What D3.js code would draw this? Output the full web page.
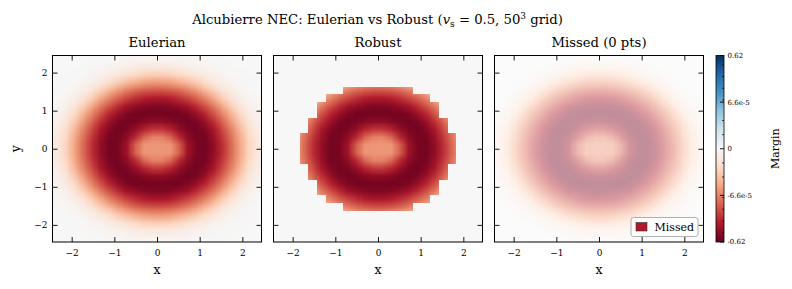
<!DOCTYPE html>
<html>
<head>
<meta charset="utf-8">
<script src="https://cdn.jsdelivr.net/npm/d3@7"></script>
<style>
body { margin: 0; background: #fff; }
text { font-family: "DejaVu Serif", serif; fill: #000; }
</style>
</head>
<body>
<div id="chart"></div>
<script>
// ---------------------------- DATA --------------------------------
// cell centres of the 50 point grid on [-5, 5] (positive half, central cells only)
var cellCentres = [0.102, 0.306, 0.510, 0.714, 0.918, 1.122, 1.327, 1.531, 1.735, 1.939, 2.143, 2.347];

// Eulerian NEC margin, one quadrant (rows: y outward, cols: x outward)
var eulerianQuadrant = [
    [-5.8e-5, -5.9e-5, -4.1e-4, -0.038, -0.25, -0.31, -0.072, -0.0051, -2.4e-4, -5.2e-5, -2.9e-5, -1.3e-5],
    [-6.6e-5, -2.9e-4, -0.0069, -0.091, -0.30, -0.27, -0.050, -0.0032, -1.6e-4, -4.9e-5, -2.7e-5, -1.2e-5],
    [-0.0034, -0.0099, -0.062, -0.23, -0.34, -0.15, -0.023, -0.0012, -6.7e-5, -4.3e-5, -2.2e-5, -9.5e-6],
    [-0.086, -0.14, -0.25, -0.34, -0.23, -0.051, -0.0050, -3.3e-4, -5.7e-5, -3.5e-5, -1.6e-5, -6.6e-6],
    [-0.31, -0.33, -0.32, -0.19, -0.055, -0.0089, -7.7e-4, -6.5e-5, -4.5e-5, -2.6e-5, -1.2e-5, -4.5e-6],
    [-0.19, -0.14, -0.077, -0.033, -0.0059, -8.2e-4, -9.2e-5, -5.0e-5, -3.2e-5, -1.5e-5, -6.9e-6, -2.6e-6],
    [-0.020, -0.013, -0.0057, -0.0017, -3.7e-4, -6.6e-5, -5.0e-5, -3.3e-5, -1.8e-5, -9.2e-6, -3.7e-6, -1.1e-6],
    [-7.1e-4, -4.8e-4, -2.4e-4, -7.9e-5, -5.7e-5, -4.4e-5, -3.1e-5, -1.8e-5, -1.0e-5, -4.2e-6, -1.3e-6, -2.6e-7],
    [-5.8e-5, -5.6e-5, -5.0e-5, -4.3e-5, -3.4e-5, -2.4e-5, -1.5e-5, -8.7e-6, -4.2e-6, -1.6e-6, -5e-7, 0],
    [-3.3e-5, -3.1e-5, -2.7e-5, -2.1e-5, -1.5e-5, -1.1e-5, -5.8e-6, -3.4e-6, -1.3e-6, -5e-7, 0, 0],
    [-1.3e-5, -1.3e-5, -1.1e-5, -8.4e-6, -5.3e-6, -3.7e-6, -2.1e-6, -1.1e-6, -3e-7, 0, 0, 0],
    [-4.2e-6, -4.0e-6, -3.4e-6, -2.6e-6, -1.3e-6, -1.1e-6, -5e-7, 0, 0, 0, 0, 0]
];

// robust support: last x cell kept in each y row of the quadrant (-1 = none)
var robustLastCol = [8, 8, 7, 7, 6, 6, 5, 3, -1, -1, -1, -1];

var missedPoints = [];
var panelTitles = ["Eulerian", "Robust", "Missed (" + missedPoints.length + " pts)"];
var axisTicks = [-2, -1, 0, 1, 2];

// colorbar
var cbarTicks = [-0.62, -6.6e-5, 0, 6.6e-5, 0.62];
var cbarTickLabels = ["-0.62", "-6.6e-5", "0", "6.6e-5", "0.62"];
var cbarMinorTicks = [-0.1, -0.01, -0.001, -1e-4, -4e-5, -2e-5, 2e-5, 4e-5, 1e-4, 0.001, 0.01, 0.1];
var rdbuColors = ["#67001f", "#b2182b", "#d6604d", "#f4a582", "#fddbc7", "#f7f7f7",
                  "#d1e5f0", "#92c5de", "#4393c3", "#2166ac", "#053061"];

// ---------------------------- LAYOUT ------------------------------
var svgWidth = 792;
var svgHeight = 289;
var panelLefts = [52.5, 273.5, 494.5];
var panelTop = 55.5;
var panelWidth = 209;
var panelHeight = 186.5;
var cbar = { x: 716, y: 55.5, w: 8, h: 186.5 };

var svg = d3.select("#chart")
    .append("svg")
    .attr("width", svgWidth)
    .attr("height", svgHeight);

// symmetric-log style norm: linear inside +-linthresh, log outside
var linthresh = cbarTicks[3];
var vmax = cbarTicks[4];
var logPart = d3.scaleLog().domain([linthresh, vmax]).range([0.25, 0.5]);
function norm(v) {
    var a = Math.abs(v);
    var s = a <= linthresh ? 0.25 * a / linthresh : logPart(Math.min(a, vmax));
    return 0.5 + Math.sign(v) * s;
}
var cmap = d3.scaleLinear()
    .domain(d3.range(rdbuColors.length).map(i => i / (rdbuColors.length - 1)))
    .range(rdbuColors)
    .clamp(true);

var nHalf = cellCentres.length;
var halfStep = (cellCentres[1] - cellCentres[0]) / 2;
var edge = cellCentres[nHalf - 1] + halfStep;

var xScale = d3.scaleLinear().domain([-edge, edge]).range([0, panelWidth]);
var yScale = d3.scaleLinear().domain([-edge, edge]).range([panelHeight, 0]);
var tickFmt = d3.format("");

// quadrant index of a full-grid index (0 = most negative cell)
function quadIndex(k) {
    return k < nHalf ? nHalf - 1 - k : k - nHalf;
}
function centreOf(k) {
    return k < nHalf ? -cellCentres[nHalf - 1 - k] : cellCentres[k - nHalf];
}

// paint the field into a tiny canvas; the browser smooths it when scaled
function fieldImage(quadrant) {
    var size = 2 * nHalf;
    var canvas = document.createElement("canvas");
    canvas.width = size;
    canvas.height = size;
    var ctx = canvas.getContext("2d");
    var img = ctx.createImageData(size, size);
    for (var r = 0; r < size; r++) {
        // image row 0 is the top (largest y)
        var j = quadIndex(size - 1 - r);
        for (var c = 0; c < size; c++) {
            var col = d3.rgb(cmap(norm(quadrant[j][quadIndex(c)])));
            var p = 4 * (r * size + c);
            img.data[p] = col.r;
            img.data[p + 1] = col.g;
            img.data[p + 2] = col.b;
            img.data[p + 3] = 255;
        }
    }
    ctx.putImageData(img, 0, 0);
    return canvas.toDataURL();
}
var eulerianUrl = fieldImage(eulerianQuadrant);

// ---------------------------- PANELS ------------------------------
panelLefts.forEach(function(left, p) {
    var g = svg.append("g")
        .attr("transform", `translate(${left}, ${panelTop})`);

    g.append("rect")
        .attr("width", panelWidth)
        .attr("height", panelHeight)
        .attr("fill", "#fff");

    g.append("image")
        .attr("href", eulerianUrl)
        .attr("x", xScale(-edge))
        .attr("y", yScale(edge))
        .attr("width", xScale(edge) - xScale(-edge))
        .attr("height", yScale(-edge) - yScale(edge))
        .attr("preserveAspectRatio", "none")
        .attr("opacity", p === 2 ? 0.45 : 1);

    // robust panel: cells outside the support show zero margin
    if (p === 1) {
        var maskPath = d3.path();
        for (var r = 0; r < 2 * nHalf; r++) {
            for (var c = 0; c < 2 * nHalf; c++) {
                if (quadIndex(c) > robustLastCol[quadIndex(r)]) {
                    var cx = centreOf(c), cy = centreOf(r);
                    maskPath.rect(xScale(cx - halfStep), yScale(cy + halfStep),
                        xScale(halfStep) - xScale(-halfStep), yScale(-halfStep) - yScale(halfStep));
                }
            }
        }
        g.append("path")
            .attr("d", maskPath.toString())
            .attr("fill", cmap(norm(0)))
            .attr("shape-rendering", "crispEdges");
    }

    // missed points (none here)
    g.selectAll("circle.missed")
        .data(missedPoints)
        .enter()
        .append("circle")
        .attr("cx", d => xScale(d[0]))
        .attr("cy", d => yScale(d[1]))
        .attr("r", 2)
        .attr("fill", "#b2182b");

    // inward ticks on all four sides
    var bottom = g.append("g")
        .attr("transform", `translate(0, ${panelHeight})`)
        .call(d3.axisBottom(xScale).tickValues(axisTicks).tickSizeInner(-5).tickSizeOuter(0)
            .tickPadding(8).tickFormat(tickFmt));
    var top = g.append("g")
        .call(d3.axisTop(xScale).tickValues(axisTicks).tickSizeInner(-5).tickSizeOuter(0).tickFormat(""));
    var leftAx = g.append("g")
        .call(d3.axisLeft(yScale).tickValues(axisTicks).tickSizeInner(-5).tickSizeOuter(0).tickPadding(5)
            .tickFormat(p === 0 ? tickFmt : ""));
    var rightAx = g.append("g")
        .attr("transform", `translate(${panelWidth}, 0)`)
        .call(d3.axisRight(yScale).tickValues(axisTicks).tickSizeInner(-5).tickSizeOuter(0).tickFormat(""));

    [bottom, top, leftAx, rightAx].forEach(function(ax) {
        ax.select(".domain").remove();
        ax.selectAll("line").attr("stroke", "#000").attr("stroke-width", 0.9);
        ax.selectAll("text")
            .attr("fill", "#000")
            .style("font-family", "'DejaVu Serif', serif")
            .style("font-size", "9px");
    });

    g.append("rect")
        .attr("width", panelWidth)
        .attr("height", panelHeight)
        .attr("fill", "none")
        .attr("stroke", "#000")
        .attr("stroke-width", 1);

    // titles and axis labels
    g.append("text")
        .attr("x", panelWidth / 2)
        .attr("y", 47.3 - panelTop)
        .attr("text-anchor", "middle")
        .style("font-size", "13.2px")
        .text(panelTitles[p]);

    g.append("text")
        .attr("x", panelWidth / 2)
        .attr("y", 274 - panelTop)
        .attr("text-anchor", "middle")
        .style("font-size", "12.5px")
        .text("x");

    if (p === 0) {
        g.append("text")
            .attr("transform", `translate(${19.5 - left}, ${panelHeight / 2}) rotate(-90)`)
            .attr("text-anchor", "middle")
            .style("font-size", "12.5px")
            .text("y");
    }

    // legend for the missed panel
    if (p === 2) {
        var lg = g.append("g")
            .attr("transform", `translate(${631 - left}, ${217.5 - panelTop})`);
        lg.append("rect")
            .attr("width", 67)
            .attr("height", 19)
            .attr("rx", 2.5)
            .attr("fill", "#fff")
            .attr("fill-opacity", 0.85)
            .attr("stroke", "#b0b0b0")
            .attr("stroke-width", 1);
        lg.append("rect")
            .attr("x", 5)
            .attr("y", 5)
            .attr("width", 11)
            .attr("height", 8.5)
            .attr("fill", "#b2182b")
            .attr("stroke", "#333")
            .attr("stroke-width", 0.6);
        lg.append("text")
            .attr("x", 23.5)
            .attr("y", 13)
            .style("font-size", "11px")
            .text("Missed");
    }
});

// ---------------------------- SUPTITLE ----------------------------
var title = svg.append("text")
    .attr("x", 377.5)
    .attr("y", 24)
    .attr("text-anchor", "middle")
    .style("font-size", "13.2px");
title.append("tspan").text("Alcubierre NEC: Eulerian vs Robust (");
title.append("tspan").style("font-style", "italic").text("v");
title.append("tspan").attr("dy", 3).style("font-size", "9px").text("s");
title.append("tspan").attr("dy", -3).text(" = 0.5, 50");
title.append("tspan").attr("dy", -5).style("font-size", "9px").text("3");
title.append("tspan").attr("dy", 5).text(" grid)");

// ---------------------------- COLORBAR ----------------------------
var cbarY = d3.scaleLinear().domain([0, 1]).range([cbar.y + cbar.h, cbar.y]);

var grad = svg.append("defs").append("linearGradient")
    .attr("id", "rdbu")
    .attr("x1", 0).attr("y1", 1)
    .attr("x2", 0).attr("y2", 0);
grad.selectAll("stop")
    .data(d3.range(0, 1.0001, 0.02))
    .enter()
    .append("stop")
    .attr("offset", d => d)
    .attr("stop-color", d => cmap(d));

svg.append("rect")
    .attr("x", cbar.x)
    .attr("y", cbar.y)
    .attr("width", cbar.w)
    .attr("height", cbar.h)
    .attr("fill", "url(#rdbu)")
    .attr("stroke", "#000")
    .attr("stroke-width", 0.8);

svg.selectAll("line.cbminor")
    .data(cbarMinorTicks)
    .enter()
    .append("line")
    .attr("class", "cbminor")
    .attr("x1", cbar.x + cbar.w)
    .attr("x2", cbar.x + cbar.w - 2)
    .attr("y1", d => cbarY(norm(d)))
    .attr("y2", d => cbarY(norm(d)))
    .attr("stroke", "#000")
    .attr("stroke-width", 0.7);

svg.selectAll("line.cbmajor")
    .data(cbarTicks)
    .enter()
    .append("line")
    .attr("class", "cbmajor")
    .attr("x1", cbar.x + cbar.w)
    .attr("x2", cbar.x + cbar.w - 4)
    .attr("y1", d => cbarY(norm(d)))
    .attr("y2", d => cbarY(norm(d)))
    .attr("stroke", "#000")
    .attr("stroke-width", 0.9);

svg.selectAll("text.cblabel")
    .data(cbarTicks)
    .enter()
    .append("text")
    .attr("class", "cblabel")
    .attr("x", cbar.x + cbar.w + 3.5)
    .attr("y", d => cbarY(norm(d)))
    .attr("dy", "0.35em")
    .style("font-size", "7px")
    .text((d, i) => cbarTickLabels[i]);

svg.append("text")
    .attr("transform", `translate(779, ${cbar.y + cbar.h / 2}) rotate(-90)`)
    .attr("text-anchor", "middle")
    .style("font-size", "11px")
    .text("Margin");
</script>
</body>
</html>
